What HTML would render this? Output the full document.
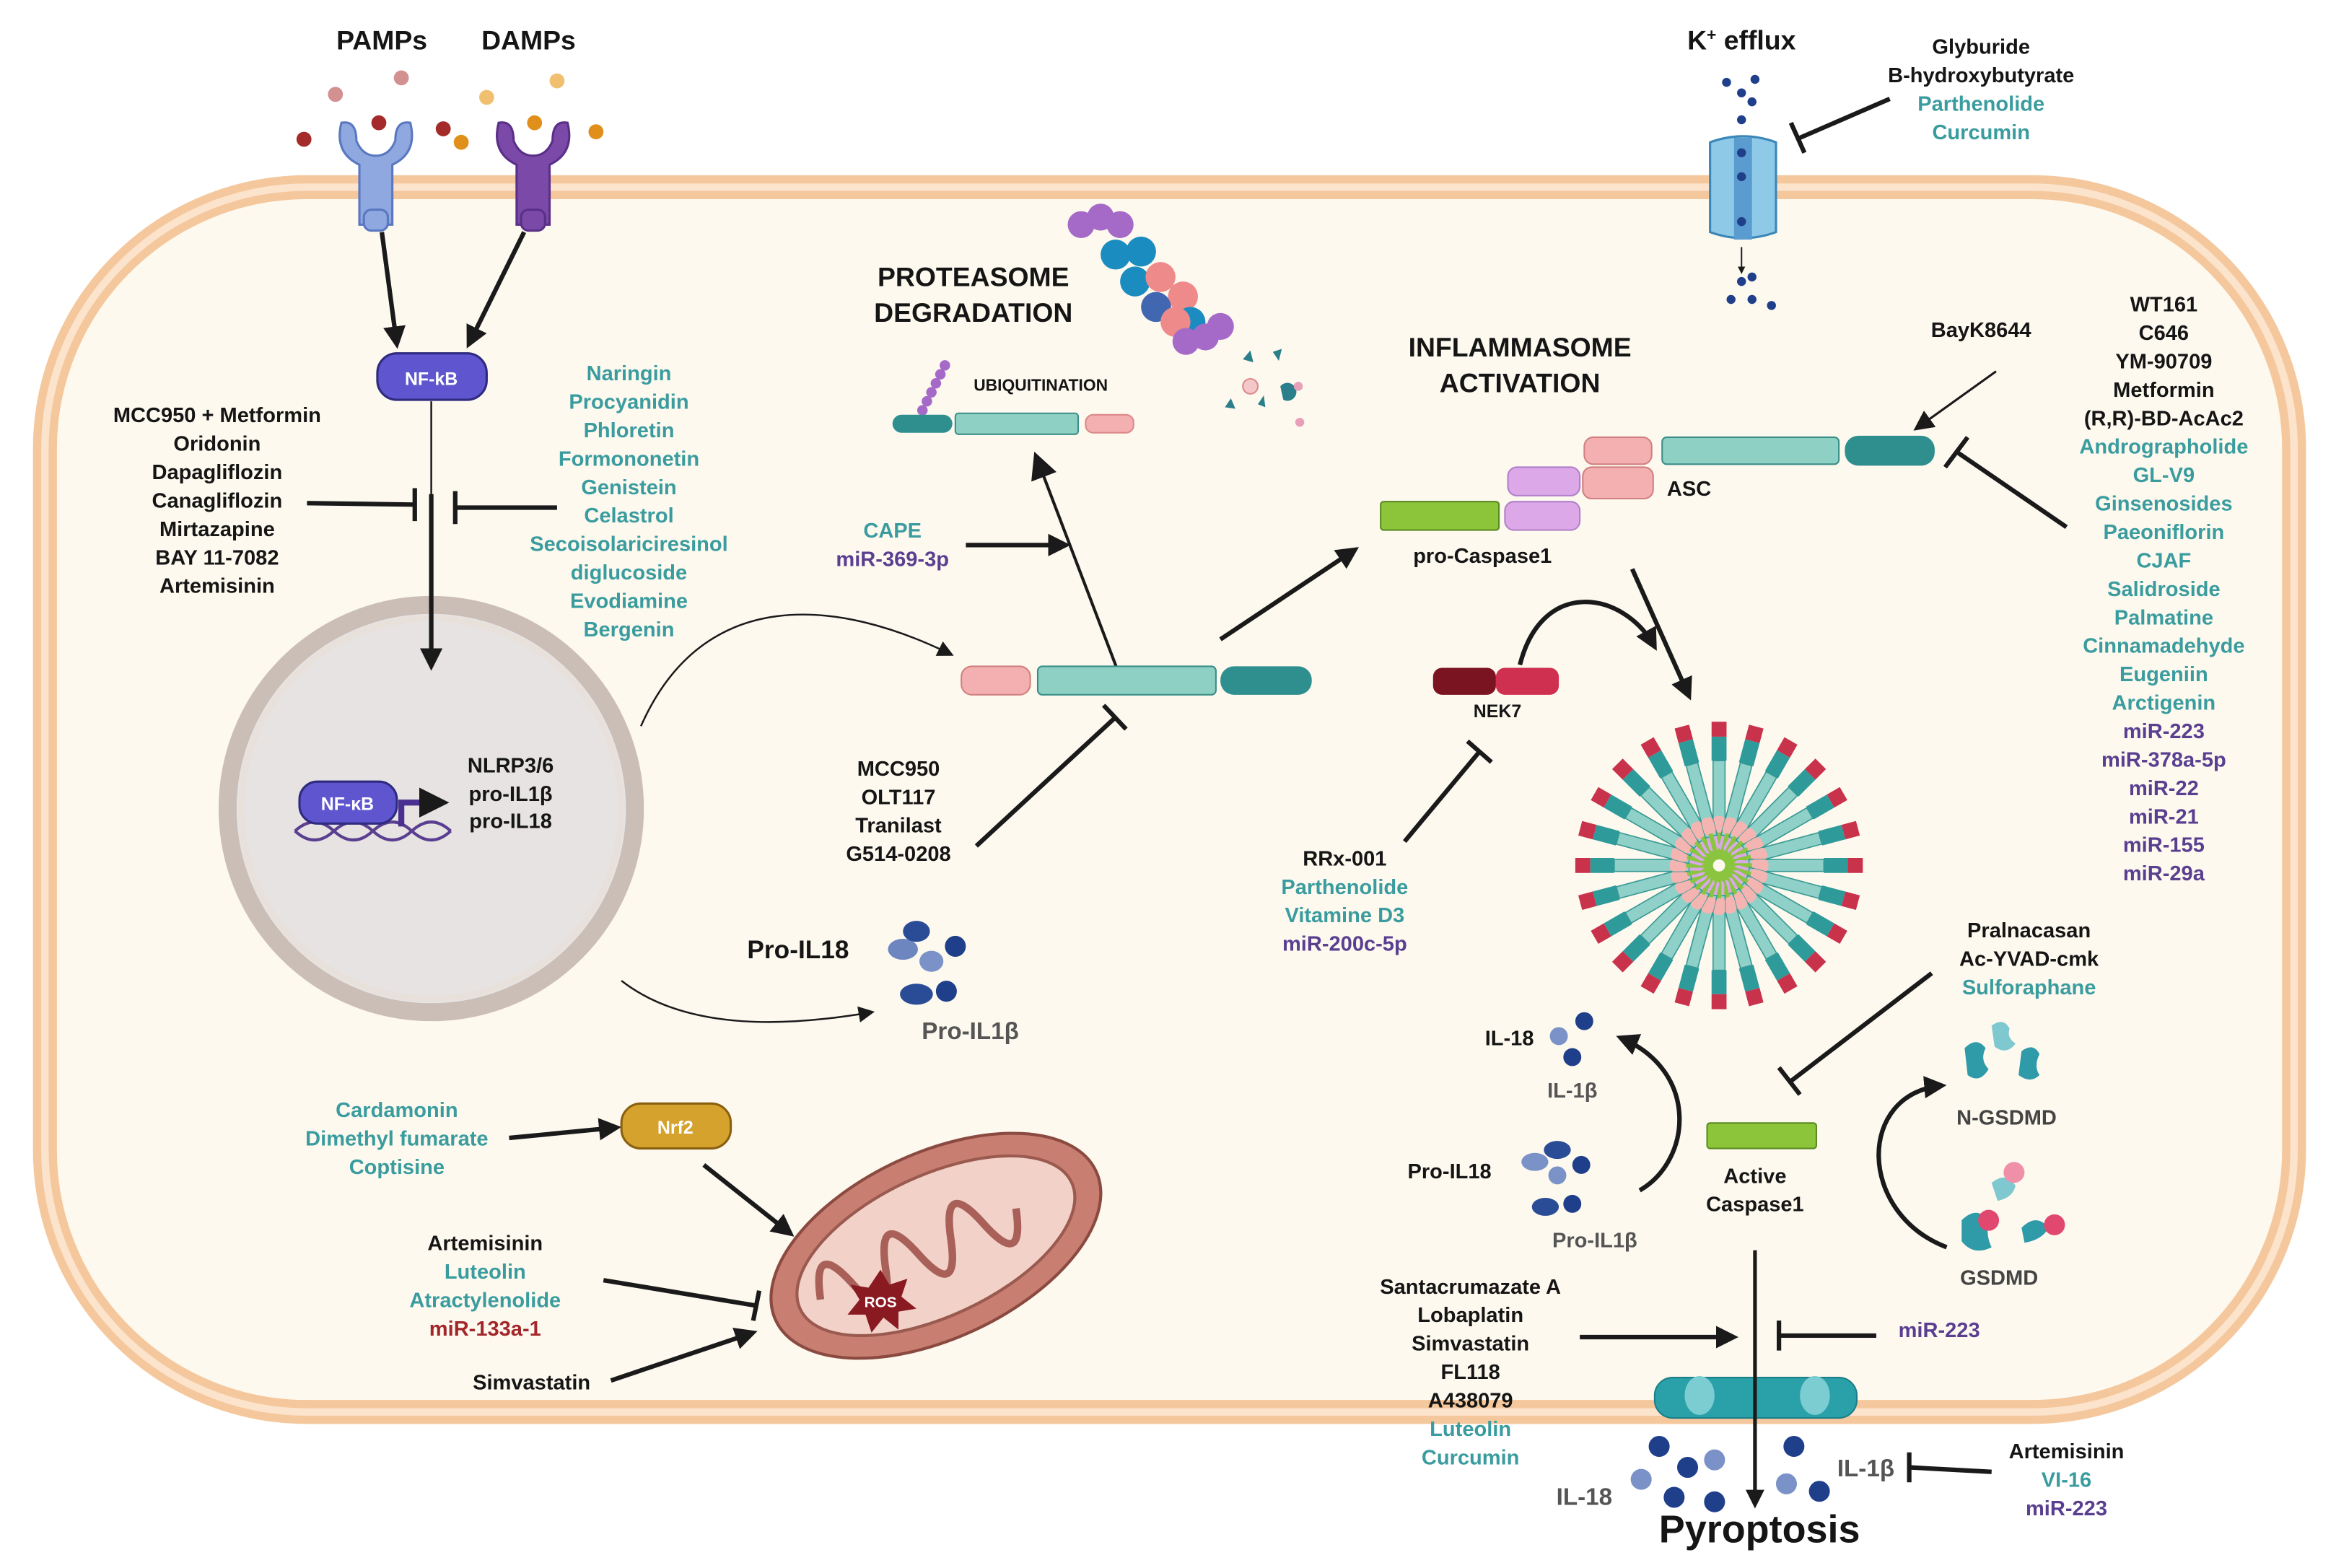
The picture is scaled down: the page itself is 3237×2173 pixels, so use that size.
<!DOCTYPE html>
<html><head><meta charset="utf-8">
<style>
html,body{margin:0;padding:0;background:#fff;}
svg{display:block;}
text{font-family:"Liberation Sans",Arial,sans-serif;font-weight:bold;font-size:14px;text-anchor:middle;}
.k{fill:#151515}.t{fill:#3a9c9e}.p{fill:#5a3f90}.r{fill:#a3262a}.g{fill:#555}
.ln{stroke:#1a1a1a;stroke-width:3;fill:none}
.th{stroke:#1a1a1a;stroke-width:1.2;fill:none}
</style></head><body>
<svg width="3237" height="2173" viewBox="0 0 1560 1047.2" xmlns="http://www.w3.org/2000/svg">
<defs>
<marker id="a" viewBox="0 0 10 10" refX="8" refY="5" markerWidth="5" markerHeight="5" orient="auto"><path d="M0,0L10,5L0,10z" fill="#1a1a1a"/></marker>
<marker id="as" viewBox="0 0 10 10" refX="8" refY="5" markerWidth="9" markerHeight="9" orient="auto"><path d="M0,0L10,5L0,10z" fill="#1a1a1a"/></marker>
<g id="spoke">
<rect x="-4" y="-70" width="8" height="50" fill="#8fd0c8" stroke="#3a9a94" stroke-width="0.8"/>
<rect x="-5" y="-86" width="10" height="16" fill="#2f9a9a"/>
<rect x="-5" y="-96" width="10" height="10" fill="#c8324a"/>
<rect x="-4" y="-33" width="8" height="12" rx="3" fill="#f4b5b2"/>
<rect x="-3.5" y="-20" width="7" height="10" rx="3" fill="#d9a8e6"/>
<rect x="-1.5" y="-22" width="3" height="18" fill="#8bc53f"/>
</g>
</defs>
<rect width="1560" height="1047.2" fill="#fff"/>
<rect x="30" y="125" width="1502" height="818" rx="175" fill="#fdf9ef" stroke="#f5c79c" stroke-width="16"/>
<rect x="30" y="125" width="1502" height="818" rx="175" fill="none" stroke="#fbe3cc" stroke-width="5"/>
<circle cx="288" cy="540" r="136" fill="#e6e3e2" stroke="#cbbeb6" stroke-width="12"/>
<circle cx="288" cy="540" r="127" fill="none" stroke="#e8e0da" stroke-width="4"/>
<g fill="#8fa8e0" stroke="#5a78c0" stroke-width="1.5">
<path d="M228,82q-5,20 12,28v40h22v-40q17,-8 12,-28q-10,-2 -10,12q-4,10 -13,10q-9,0 -13,-10q0,-14 -10,-12z"/>
<rect x="243" y="140" width="16" height="14" rx="5"/></g>
<g fill="#7b4aa8" stroke="#5a2f88" stroke-width="1.5">
<path d="M333,82q-5,20 12,28v40h22v-40q17,-8 12,-28q-10,-2 -10,12q-4,10 -13,10q-9,0 -13,-10q0,-14 -10,-12z"/>
<rect x="348" y="140" width="16" height="14" rx="5"/></g>
<g><circle cx="203" cy="93" r="5" fill="#a52a2a"/><circle cx="253" cy="82" r="5" fill="#a52a2a"/><circle cx="296" cy="86" r="5" fill="#a52a2a"/><circle cx="224" cy="63" r="5" fill="#d39090"/><circle cx="268" cy="52" r="5" fill="#d39090"/><circle cx="308" cy="95" r="5" fill="#e0901a"/><circle cx="357" cy="82" r="5" fill="#e0901a"/><circle cx="398" cy="88" r="5" fill="#e0901a"/><circle cx="325" cy="65" r="5" fill="#f0c070"/><circle cx="372" cy="54" r="5" fill="#f0c070"/></g>
<text x="255" y="33" class="k" style="font-size:18px">PAMPs</text>
<text x="353" y="33" class="k" style="font-size:18px">DAMPs</text>
<line x1="255" y1="155" x2="265" y2="230" class="ln" marker-end="url(#a)"/>
<line x1="350" y1="155" x2="313" y2="230" class="ln" marker-end="url(#a)"/>
<rect x="252" y="236" width="73" height="31" rx="13" fill="#5f56cf" stroke="#2e2a80" stroke-width="1.5"/>
<text x="288" y="257" style="fill:#fff;font-size:12px">NF-kB</text>
<line x1="288" y1="268" x2="288" y2="445" class="th"/>
<line x1="288" y1="330" x2="288" y2="445" class="ln" marker-end="url(#a)"/>
<g class="k"><text x="145" y="282">MCC950 + Metformin</text><text x="145" y="301">Oridonin</text><text x="145" y="320">Dapagliflozin</text><text x="145" y="339">Canagliflozin</text><text x="145" y="358">Mirtazapine</text><text x="145" y="377">BAY 11-7082</text><text x="145" y="396">Artemisinin</text></g>
<line x1="205" y1="336" x2="277" y2="337" class="ln"/><line x1="277" y1="326" x2="277" y2="348" class="ln"/>
<line x1="372" y1="339" x2="304" y2="339" class="ln"/><line x1="304" y1="328" x2="304" y2="350" class="ln"/>
<g class="t"><text x="420" y="254">Naringin</text><text x="420" y="273">Procyanidin</text><text x="420" y="292">Phloretin</text><text x="420" y="311">Formononetin</text><text x="420" y="330">Genistein</text><text x="420" y="349">Celastrol</text><text x="420" y="368">Secoisolariciresinol</text><text x="420" y="387">diglucoside</text><text x="420" y="406">Evodiamine</text><text x="420" y="425">Bergenin</text></g>
<path d="M197,555 q13,-12 26,0 t26,0 t26,0 t26,0" stroke="#5a3f90" stroke-width="2" fill="none"/>
<path d="M197,555 q13,12 26,0 t26,0 t26,0 t26,0" stroke="#5a3f90" stroke-width="2" fill="none"/>
<rect x="200" y="522" width="65" height="28" rx="12" fill="#5f56cf" stroke="#2e2a80" stroke-width="1.5"/>
<text x="232" y="541" style="fill:#fff;font-size:12px">NF-κB</text>
<path d="M268,552 V536 H296" stroke="#4a2f90" stroke-width="4" fill="none" marker-end="url(#a)"/>
<g class="k" style="font-size:14px"><text x="341" y="516">NLRP3/6</text><text x="341" y="535">pro-IL1β</text><text x="341" y="553">pro-IL18</text></g>
<path d="M428,485 C470,390 560,400 635,437" class="th" marker-end="url(#as)"/>
<path d="M415,655 C460,690 530,685 582,676" class="th" marker-end="url(#as)"/>
<text x="533" y="640" class="k" style="font-size:17px">Pro-IL18</text>
<text x="648" y="694" class="g" style="font-size:16px">Pro-IL1β</text>
<g><ellipse cx="603" cy="634" rx="10" ry="7" fill="#6d86c0"/><ellipse cx="622" cy="642" rx="8" ry="7" fill="#7a92c8"/><circle cx="638" cy="632" r="7" fill="#1f3f8a"/><ellipse cx="612" cy="664" rx="11" ry="7" fill="#2a4c96"/><circle cx="632" cy="662" r="7" fill="#1f3f8a"/><ellipse cx="612" cy="622" rx="9" ry="7" fill="#2a4c96"/></g>
<g><circle cx="722" cy="150" r="9" fill="#a56ac8"/><circle cx="735" cy="145" r="9" fill="#a56ac8"/><circle cx="748" cy="150" r="9" fill="#a56ac8"/><circle cx="745" cy="170" r="10" fill="#1a8cc0"/><circle cx="762" cy="168" r="10" fill="#1a8cc0"/><circle cx="758" cy="188" r="10" fill="#1a8cc0"/><circle cx="775" cy="185" r="10" fill="#ee8a8a"/><circle cx="790" cy="198" r="10" fill="#ee8a8a"/><circle cx="772" cy="205" r="10" fill="#4067b0"/><circle cx="795" cy="215" r="10" fill="#1a8cc0"/><circle cx="785" cy="215" r="10" fill="#ee8a8a"/><circle cx="805" cy="225" r="9" fill="#a56ac8"/><circle cx="815" cy="218" r="9" fill="#a56ac8"/><circle cx="792" cy="228" r="9" fill="#a56ac8"/></g>
<g fill="#2a7f8a"><path d="M830,240 l5,-6 l2,8z"/><path d="M850,235 l6,-2 l-2,8z"/><path d="M855,258 a6,6 0 1 1 2,9z"/><circle cx="835" cy="258" r="5" fill="#f4c8c8" stroke="#d88"/><path d="M818,272 l4,-6 l3,7z"/><path d="M840,270 l4,-6 l1,8z"/><circle cx="868" cy="282" r="3" fill="#e8a0b8"/><circle cx="867" cy="258" r="3" fill="#e8a0b8"/></g>
<text x="650" y="191" class="k" style="font-size:18px">PROTEASOME</text>
<text x="650" y="215" class="k" style="font-size:18px">DEGRADATION</text>
<text x="695" y="261" class="k" style="font-size:11px">UBIQUITINATION</text>
<g fill="#a56ac8"><circle cx="631" cy="244" r="3.5"/><circle cx="628" cy="250" r="3.5"/><circle cx="625" cy="256" r="3.5"/><circle cx="622" cy="262" r="3.5"/><circle cx="619" cy="268" r="3.5"/><circle cx="616" cy="274" r="3.5"/></g>
<rect x="596" y="277" width="40" height="12" rx="6" fill="#2f8f8f"/>
<rect x="638" y="276" width="82" height="14" rx="2" fill="#8fd0c4" stroke="#3a8e88"/>
<rect x="725" y="277" width="32" height="12" rx="5" fill="#f4b0b0" stroke="#d88"/>
<text x="596" y="359" class="t">CAPE</text><text x="596" y="378" class="p">miR-369-3p</text>
<line x1="645" y1="364" x2="712" y2="364" class="ln" marker-end="url(#a)"/>
<line x1="748" y1="452" x2="692" y2="305" stroke="#1a1a1a" stroke-width="2" marker-end="url(#as)"/>
<rect x="642" y="445" width="46" height="19" rx="7" fill="#f4b0b0" stroke="#d08080"/>
<rect x="693" y="445" width="119" height="19" rx="3" fill="#8fd0c4" stroke="#3a8e88"/>
<rect x="815" y="445" width="61" height="19" rx="9" fill="#2f8f8f"/>
<line x1="652" y1="565" x2="745" y2="479" class="ln"/><line x1="737" y1="471" x2="752" y2="487" class="ln"/>
<g class="k"><text x="600" y="518">MCC950</text><text x="600" y="537">OLT117</text><text x="600" y="556">Tranilast</text><text x="600" y="575">G514-0208</text></g>
<line x1="815" y1="427" x2="905" y2="367" class="ln" stroke-width="2.5" marker-end="url(#a)"/>
<path d="M1142,95 q22,-8 44,0 v60 q-22,8 -44,0z" fill="#8ecae8" stroke="#3a86b8" stroke-width="1.5"/>
<rect x="1158" y="92" width="12" height="68" fill="#5a9ccf"/>
<g fill="#1f3f8a"><circle cx="1163" cy="102" r="3"/><circle cx="1163" cy="118" r="3"/><circle cx="1163" cy="148" r="3"/><circle cx="1163" cy="80" r="3"/><circle cx="1153" cy="55" r="3"/><circle cx="1163" cy="62" r="3"/><circle cx="1170" cy="68" r="3"/><circle cx="1172" cy="53" r="3"/><circle cx="1163" cy="188" r="3"/><circle cx="1170" cy="185" r="3"/><circle cx="1156" cy="200" r="3"/><circle cx="1170" cy="200" r="3"/><circle cx="1183" cy="204" r="3"/></g>
<line x1="1163" y1="165" x2="1163" y2="182" stroke="#222" stroke-width="1" marker-end="url(#a)"/>
<text x="1163" y="33" class="k" style="font-size:18px">K<tspan dy="-6" style="font-size:11px">+</tspan><tspan dy="6"> efflux</tspan></text>
<g><text x="1323" y="36" class="k">Glyburide</text><text x="1323" y="55" class="k">B-hydroxybutyrate</text><text x="1323" y="74" class="t">Parthenolide</text><text x="1323" y="93" class="t">Curcumin</text></g>
<line x1="1262" y1="66" x2="1202" y2="92" class="ln"/><line x1="1196" y1="82" x2="1205" y2="102" class="ln"/>
<text x="1015" y="238" class="k" style="font-size:18px">INFLAMMASOME</text>
<text x="1015" y="262" class="k" style="font-size:18px">ACTIVATION</text>
<text x="1323" y="225" class="k">BayK8644</text>
<line x1="1333" y1="248" x2="1280" y2="286" stroke="#1a1a1a" stroke-width="1.5" marker-end="url(#as)"/>
<rect x="1058" y="292" width="45" height="18" rx="6" fill="#f4b0b0" stroke="#d08080"/>
<rect x="1110" y="292" width="118" height="18" rx="3" fill="#8fd0c4" stroke="#3a8e88"/>
<rect x="1232" y="291" width="60" height="20" rx="9" fill="#2f8f8f"/>
<rect x="1007" y="312" width="48" height="19" rx="6" fill="#dca8e8" stroke="#b080c8"/>
<rect x="1057" y="312" width="47" height="21" rx="6" fill="#f4b0b0" stroke="#d08080"/>
<text x="1128" y="331" class="k">ASC</text>
<rect x="922" y="335" width="79" height="19" rx="2" fill="#8cc53a" stroke="#5a8a20"/>
<rect x="1005" y="335" width="50" height="19" rx="6" fill="#dca8e8" stroke="#b080c8"/>
<text x="990" y="376" class="k">pro-Caspase1</text>
<line x1="1380" y1="352" x2="1307" y2="302" class="ln"/><line x1="1299" y1="312" x2="1314" y2="292" class="ln"/>
<g class="k"><text x="1445" y="208">WT161</text><text x="1445" y="227">C646</text><text x="1445" y="246">YM-90709</text><text x="1445" y="265">Metformin</text><text x="1445" y="284">(R,R)-BD-AcAc2</text></g>
<g class="t"><text x="1445" y="303">Andrographolide</text><text x="1445" y="322">GL-V9</text><text x="1445" y="341">Ginsenosides</text><text x="1445" y="360">Paeoniflorin</text><text x="1445" y="379">CJAF</text><text x="1445" y="398">Salidroside</text><text x="1445" y="417">Palmatine</text><text x="1445" y="436">Cinnamadehyde</text><text x="1445" y="455">Eugeniin</text><text x="1445" y="474">Arctigenin</text></g>
<g class="p"><text x="1445" y="493">miR-223</text><text x="1445" y="512">miR-378a-5p</text><text x="1445" y="531">miR-22</text><text x="1445" y="550">miR-21</text><text x="1445" y="569">miR-155</text><text x="1445" y="588">miR-29a</text></g>
<rect x="957" y="446" width="42" height="18" rx="6" fill="#7a1420"/>
<rect x="999" y="446" width="42" height="18" rx="6" fill="#d03050"/>
<text x="1000" y="479" class="k" style="font-size:12px">NEK7</text>
<path d="M1015,444 C1030,385 1085,395 1105,432" class="ln" stroke-width="2.5" marker-end="url(#a)"/>
<line x1="1090" y1="380" x2="1128" y2="465" class="ln" stroke-width="2" marker-end="url(#a)"/>
<line x1="938" y1="562" x2="988" y2="502" class="ln"/><line x1="980" y1="495" x2="996" y2="509" class="ln"/>
<g><text x="898" y="578" class="k">RRx-001</text><text x="898" y="597" class="t">Parthenolide</text><text x="898" y="616" class="t">Vitamine D3</text><text x="898" y="635" class="p">miR-200c-5p</text></g>
<g transform="translate(1148,578)">
<use href="#spoke" transform="rotate(0)"/><use href="#spoke" transform="rotate(15)"/><use href="#spoke" transform="rotate(30)"/><use href="#spoke" transform="rotate(45)"/><use href="#spoke" transform="rotate(60)"/><use href="#spoke" transform="rotate(75)"/><use href="#spoke" transform="rotate(90)"/><use href="#spoke" transform="rotate(105)"/><use href="#spoke" transform="rotate(120)"/><use href="#spoke" transform="rotate(135)"/><use href="#spoke" transform="rotate(150)"/><use href="#spoke" transform="rotate(165)"/><use href="#spoke" transform="rotate(180)"/><use href="#spoke" transform="rotate(195)"/><use href="#spoke" transform="rotate(210)"/><use href="#spoke" transform="rotate(225)"/><use href="#spoke" transform="rotate(240)"/><use href="#spoke" transform="rotate(255)"/><use href="#spoke" transform="rotate(270)"/><use href="#spoke" transform="rotate(285)"/><use href="#spoke" transform="rotate(300)"/><use href="#spoke" transform="rotate(315)"/><use href="#spoke" transform="rotate(330)"/><use href="#spoke" transform="rotate(345)"/>
<circle r="4" fill="#fdf9ef"/>
</g>
<g><text x="1355" y="626" class="k">Pralnacasan</text><text x="1355" y="645" class="k">Ac-YVAD-cmk</text><text x="1355" y="664" class="t">Sulforaphane</text></g>
<line x1="1290" y1="650" x2="1196" y2="722" class="ln"/><line x1="1188" y1="713" x2="1202" y2="731" class="ln"/>
<text x="1008" y="698" class="k">IL-18</text>
<text x="1050" y="733" class="g" style="font-size:14px">IL-1β</text>
<circle cx="1041" cy="692" r="6" fill="#7a92c8"/><circle cx="1058" cy="682" r="6" fill="#1f3f8a"/><circle cx="1050" cy="706" r="6" fill="#1f3f8a"/>
<path d="M1095,795 C1130,775 1135,715 1082,693" class="ln" stroke-width="2" marker-end="url(#a)"/>
<text x="968" y="787" class="k">Pro-IL18</text>
<text x="1065" y="833" class="g" style="font-size:14px">Pro-IL1β</text>
<g><ellipse cx="1025" cy="776" rx="9" ry="6" fill="#7a92c8"/><ellipse cx="1040" cy="768" rx="9" ry="6" fill="#2a4c96"/><circle cx="1056" cy="778" r="6" fill="#1f3f8a"/><circle cx="1040" cy="785" r="6" fill="#7a92c8"/><ellipse cx="1032" cy="806" rx="9" ry="6" fill="#2a4c96"/><circle cx="1050" cy="804" r="6" fill="#1f3f8a"/></g>
<rect x="1140" y="750" width="73" height="17" rx="2" fill="#8cc53a" stroke="#5a8a20"/>
<text x="1172" y="790" class="k">Active</text><text x="1172" y="809" class="k">Caspase1</text>
<g fill="#2f9aa8"><path d="M1312,700 q8,-8 14,0 q-4,8 2,14 q-6,10 -14,4z"/><path d="M1330,685 q8,-6 12,2 q-2,6 4,10 q-6,8 -14,2z" fill="#7fc8cf"/><path d="M1350,702 q8,-6 12,2 q-4,8 0,14 q-6,6 -14,0z"/></g>
<text x="1340" y="751" class="k" style="fill:#444">N-GSDMD</text>
<path d="M1300,833 C1240,810 1240,730 1297,725" class="ln" stroke-width="2" marker-end="url(#a)"/>
<g><path d="M1310,815 q10,-10 18,0 q-2,10 2,18 q-12,6 -20,-4z" fill="#2f9aa8"/><circle cx="1328" cy="815" r="7" fill="#e04870"/><path d="M1330,790 q10,-8 16,2 q-2,8 -12,10z" fill="#7fc8cf"/><circle cx="1345" cy="783" r="7" fill="#f090a8"/><path d="M1350,820 q10,-10 18,0 q-4,8 -16,10z" fill="#2f9aa8"/><circle cx="1372" cy="818" r="7" fill="#e04870"/></g>
<text x="1335" y="858" class="k" style="fill:#444">GSDMD</text>
<g class="k"><text x="982" y="864">Santacrumazate A</text><text x="982" y="883">Lobaplatin</text><text x="982" y="902">Simvastatin</text><text x="982" y="921">FL118</text><text x="982" y="940">A438079</text></g>
<g class="t"><text x="982" y="959">Luteolin</text><text x="982" y="978">Curcumin</text></g>
<line x1="1055" y1="893" x2="1158" y2="893" class="ln" marker-end="url(#a)"/>
<line x1="1253" y1="892" x2="1188" y2="892" class="ln"/><line x1="1188" y1="882" x2="1188" y2="902" class="ln"/>
<text x="1295" y="893" class="p">miR-223</text>
<rect x="1105" y="920" width="135" height="27" rx="12" fill="#2aa0a8" stroke="#1a7f88"/>
<g fill="#7ccdd2"><ellipse cx="1135" cy="932" rx="10" ry="13"/><ellipse cx="1212" cy="932" rx="10" ry="13"/></g>
<line x1="1172" y1="835" x2="1172" y2="1005" stroke="#1a1a1a" stroke-width="2.5" marker-end="url(#a)"/>
<g><circle cx="1108" cy="966" r="7" fill="#1f3f8a"/><circle cx="1096" cy="988" r="7" fill="#7a92c8"/><circle cx="1127" cy="980" r="7" fill="#1f3f8a"/><circle cx="1145" cy="975" r="7" fill="#7a92c8"/><circle cx="1118" cy="1000" r="7" fill="#1f3f8a"/><circle cx="1145" cy="1003" r="7" fill="#1f3f8a"/><circle cx="1198" cy="966" r="7" fill="#1f3f8a"/><circle cx="1193" cy="991" r="7" fill="#7a92c8"/><circle cx="1215" cy="996" r="7" fill="#1f3f8a"/></g>
<text x="1058" y="1005" class="g" style="font-size:16px">IL-18</text>
<text x="1246" y="986" class="g" style="font-size:16px">IL-1β</text>
<text x="1175" y="1030" class="k" style="font-size:26px">Pyroptosis</text>
<line x1="1330" y1="983" x2="1275" y2="980" class="ln"/><line x1="1275" y1="970" x2="1275" y2="990" class="ln"/>
<g><text x="1380" y="974" class="k">Artemisinin</text><text x="1380" y="993" class="t">VI-16</text><text x="1380" y="1012" class="p">miR-223</text></g>
<g class="t"><text x="265" y="746">Cardamonin</text><text x="265" y="765">Dimethyl fumarate</text><text x="265" y="784">Coptisine</text></g>
<line x1="340" y1="760" x2="412" y2="753" class="ln" marker-end="url(#a)"/>
<rect x="415" y="737" width="73" height="30" rx="13" fill="#d6a22e" stroke="#8a6010" stroke-width="1.5"/>
<text x="451" y="757" style="fill:#fff;font-size:12px">Nrf2</text>
<line x1="470" y1="778" x2="528" y2="824" class="ln" stroke-width="2" marker-end="url(#a)"/>
<g transform="rotate(-25 625 832)">
<ellipse cx="625" cy="832" rx="118" ry="62" fill="#c97e72" stroke="#8a4a40" stroke-width="2"/>
<ellipse cx="625" cy="832" rx="100" ry="47" fill="#f2d2c8" stroke="#9a5a50" stroke-width="2"/>
<path d="M540,832 q12,-40 24,0 q12,40 24,0 q12,-40 24,0 q12,40 24,0 q12,-40 24,0 q12,40 24,0" stroke="#a86058" stroke-width="5" fill="none"/>
</g>
<path d="M588,848 l6,10 l12,-4 l-4,12 l10,8 l-12,2 l0,12 l-10,-8 l-8,10 l-4,-12 l-12,0 l8,-10 l-6,-10 l12,2z" fill="#8a1a22"/>
<text x="588" y="873" style="fill:#fff;font-size:10px">ROS</text>
<g><text x="324" y="835" class="k">Artemisinin</text><text x="324" y="854" class="t">Luteolin</text><text x="324" y="873" class="t">Atractylenolide</text><text x="324" y="892" class="r">miR-133a-1</text></g>
<line x1="403" y1="855" x2="505" y2="872" class="ln"/><line x1="507" y1="862" x2="503" y2="882" class="ln"/>
<text x="355" y="928" class="k">Simvastatin</text>
<line x1="408" y1="922" x2="503" y2="890" class="ln" marker-end="url(#a)"/>
</svg>
</body></html>
